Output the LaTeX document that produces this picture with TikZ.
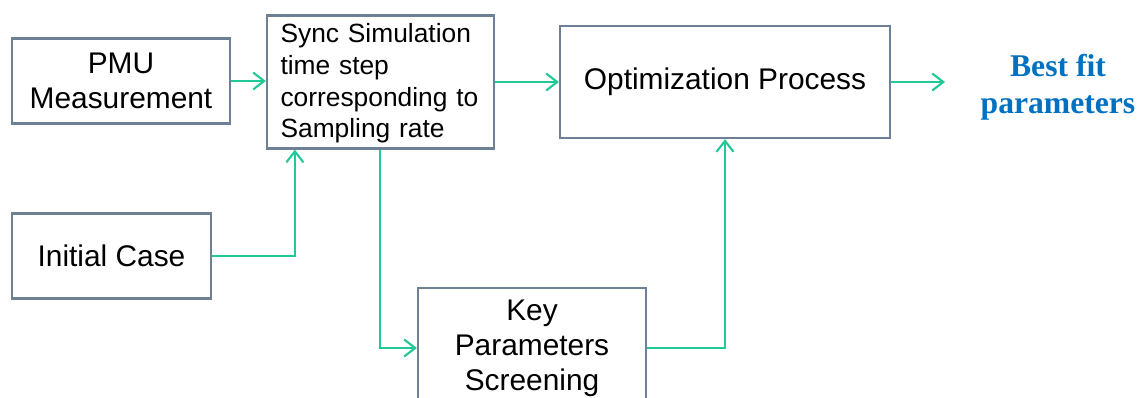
\documentclass[tikz,border=0pt]{standalone}
\usepackage{fontspec}
\setmainfont{Liberation Sans}
\newfontfamily\fitfont{Liberation Serif}
\usetikzlibrary{arrows.meta}
\definecolor{boxgray}{RGB}{110,128,148}
\definecolor{flowgreen}{RGB}{32,201,151}
\definecolor{fitblue}{RGB}{0,112,192}
\tikzset{
  blk/.style={draw=boxgray,line width=1.3pt,align=center,inner sep=2pt,
    font=\fontsize{17}{20}\selectfont},
  flow/.style={draw=flowgreen,line width=1.2pt,
    -{Straight Barb[length=2.2mm,width=3.4mm,line width=1.2pt]}}
}
\begin{document}
\begin{tikzpicture}[x=0.02cm,y=-0.02cm]
   \useasboundingbox (0,0) rectangle (1142,398);
   \node[blk,minimum width=4.36cm,minimum height=1.7cm] (pmu) at (121,81) {PMU\\Measurement};
   \node[blk,minimum width=4.54cm,minimum height=2.66cm,align=left,text width=4.0cm,
     font=\fontsize{15}{18}\selectfont] (sync) at (380.5,82)
     {\strut Sync Simulation\\time step\\corresponding to\\Sampling rate};
   \node[blk,minimum width=6.6cm,minimum height=2.24cm] (opt) at (725,82) {Optimization Process};
   \node[blk,minimum width=3.98cm,minimum height=1.7cm] (init) at (111.5,256) {Initial Case};
   \node[blk,minimum width=4.56cm,minimum height=2.4cm] (key) at (532,348) {Key\\Parameters\\Screening};
   \node[align=center,text=fitblue,font=\fitfont\bfseries\fontsize{18}{21}\selectfont] (best) at (1058,87) {Best fit\\parameters};
   \coordinate (bestin) at (945,82);
   \draw[flow] (pmu.east) -- (pmu.east -| sync.west);
   \draw[flow] (sync.east) -- (sync.east -| opt.west);
   \draw[flow] (opt.east) -- (bestin);
   \draw[flow] (init.east) -| ([xshift=0.58cm]sync.south west);
   \draw[flow] ([xshift=2.28cm]sync.south west) |- (key.west);
   \draw[flow] (key.east) -| (opt.south);
\end{tikzpicture}
\end{document}
